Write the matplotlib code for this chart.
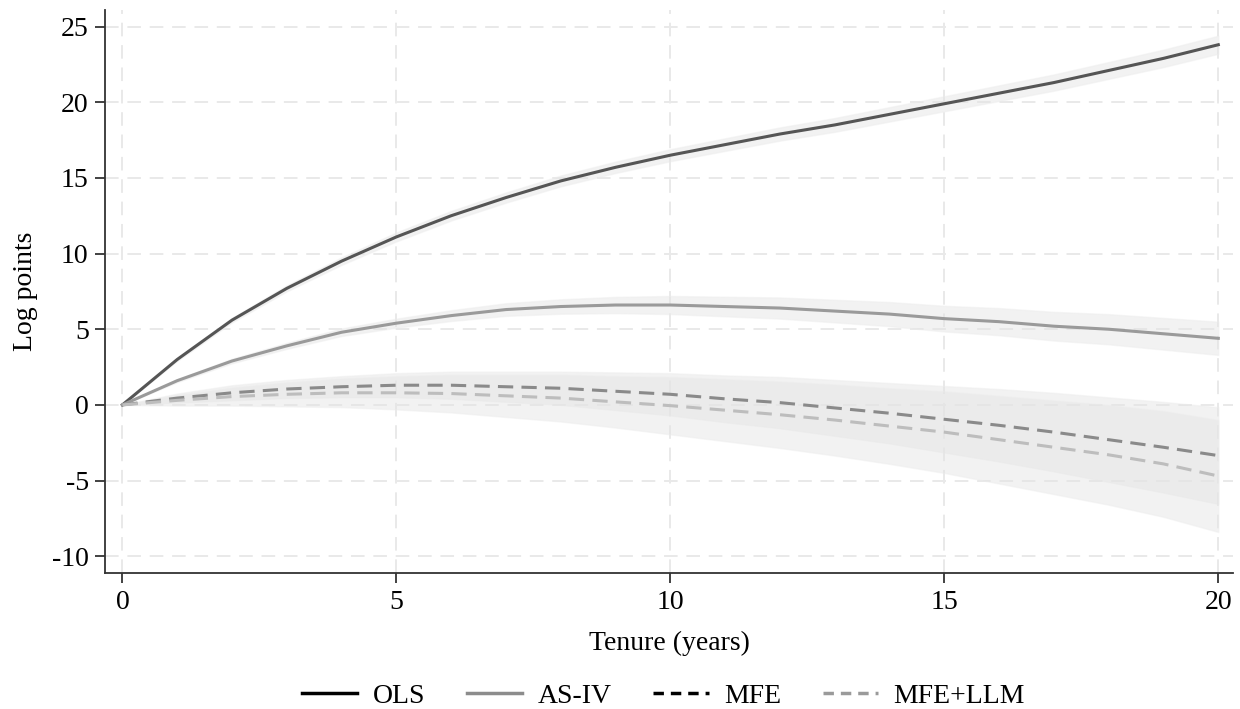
import matplotlib.pyplot as plt
from matplotlib.lines import Line2D

# tenure in years
years = list(range(21))

# point estimates, log points
ols = [0, 3.0, 5.6, 7.7, 9.5, 11.1, 12.5, 13.7, 14.8, 15.7, 16.5,
       17.2, 17.9, 18.5, 19.2, 19.9, 20.6, 21.3, 22.1, 22.9, 23.8]
asiv = [0, 1.6, 2.9, 3.9, 4.8, 5.4, 5.9, 6.3, 6.5, 6.6, 6.6,
        6.5, 6.4, 6.2, 6.0, 5.7, 5.5, 5.2, 5.0, 4.7, 4.4]
mfe = [0, 0.45, 0.8, 1.05, 1.2, 1.3, 1.3, 1.2, 1.1, 0.9, 0.7,
       0.4, 0.15, -0.2, -0.55, -0.95, -1.35, -1.8, -2.3, -2.8, -3.35]
mfe_llm = [0, 0.3, 0.55, 0.7, 0.8, 0.8, 0.75, 0.6, 0.45, 0.2, -0.05,
           -0.35, -0.65, -1.0, -1.4, -1.8, -2.3, -2.8, -3.3, -3.9, -4.7]

# confidence band half-widths
ols_hw = [0, 0.1, 0.15, 0.2, 0.25, 0.3, 0.32, 0.34, 0.36, 0.38, 0.4,
          0.42, 0.44, 0.46, 0.48, 0.5, 0.52, 0.54, 0.56, 0.58, 0.6]
asiv_hw = [0, 0.1, 0.15, 0.2, 0.25, 0.3, 0.36, 0.42, 0.48, 0.54, 0.6,
           0.65, 0.7, 0.75, 0.8, 0.85, 0.9, 0.95, 1.0, 1.05, 1.1]
mfe_hw = [0, 0.3, 0.5, 0.6, 0.7, 0.8, 0.9, 1.0, 1.1, 1.25, 1.4,
          1.55, 1.7, 1.85, 2.0, 2.2, 2.4, 2.6, 2.8, 3.0, 3.2]
mfe_llm_hw = [0, 0.35, 0.6, 0.8, 0.95, 1.1, 1.25, 1.4, 1.55, 1.7, 1.9,
              2.05, 2.2, 2.35, 2.5, 2.7, 2.9, 3.1, 3.3, 3.5, 3.7]

labels = ['OLS', 'AS-IV', 'MFE', 'MFE+LLM']

plt.rcParams['font.family'] = ['Liberation Serif', 'DejaVu Serif']
plt.rcParams['axes.unicode_minus'] = False

fig = plt.figure(figsize=(12.4, 7.09), dpi=100)
ax = fig.add_axes([0.085, 0.192, 0.909, 0.794])

series = [
    (ols, ols_hw, '#555555', '-'),
    (asiv, asiv_hw, '#9a9a9a', '-'),
    (mfe, mfe_hw, '#8a8a8a', (0, (5, 2.7))),
    (mfe_llm, mfe_llm_hw, '#bdbdbd', (0, (5, 2.7))),
]

for vals, hw, col, ls in series:
    lo = [v - h for v, h in zip(vals, hw)]
    hi = [v + h for v, h in zip(vals, hw)]
    ax.fill_between(years, lo, hi, color='#e4e4e4', alpha=0.45, lw=1,
                    edgecolor='#ececec', zorder=1)

for vals, hw, col, ls in series:
    ax.plot(years, vals, color=col, ls=ls, lw=2.2, zorder=3,
            solid_joinstyle='round')

ax.set_xlim(-0.31, 20.26)
ax.set_ylim(-11.1, 26.1)
ax.set_xticks([0, 5, 10, 15, 20])
ax.set_yticks([-10, -5, 0, 5, 10, 15, 20, 25])
ax.grid(True, color='#e9e9e9', ls=(0, (7, 4.5)), lw=1.4)
ax.set_axisbelow(True)
for s in ['top', 'right']:
    ax.spines[s].set_visible(False)
for s in ['left', 'bottom']:
    ax.spines[s].set_color('#333333')
    ax.spines[s].set_linewidth(1.3)
ax.tick_params(labelsize=20, length=7, width=1.3, color='#333333', pad=5)
ax.set_xlabel('Tenure (years)', fontsize=20, labelpad=12)
ax.set_ylabel('Log points', fontsize=20, labelpad=10)

handles = [
    Line2D([], [], color='black', lw=2.5),
    Line2D([], [], color='#8c8c8c', lw=2.5),
    Line2D([], [], color='black', lw=2.5, ls=(0, (3, 2))),
    Line2D([], [], color='#9a9a9a', lw=2.5, ls=(0, (3, 2))),
]
fig.legend(handles, labels, loc='lower center', ncol=4, frameon=False,
           fontsize=20, handlelength=2.0, handletextpad=0.55,
           columnspacing=1.5, bbox_to_anchor=(0.535, -0.035))

fig.savefig('out.png', dpi=100)
